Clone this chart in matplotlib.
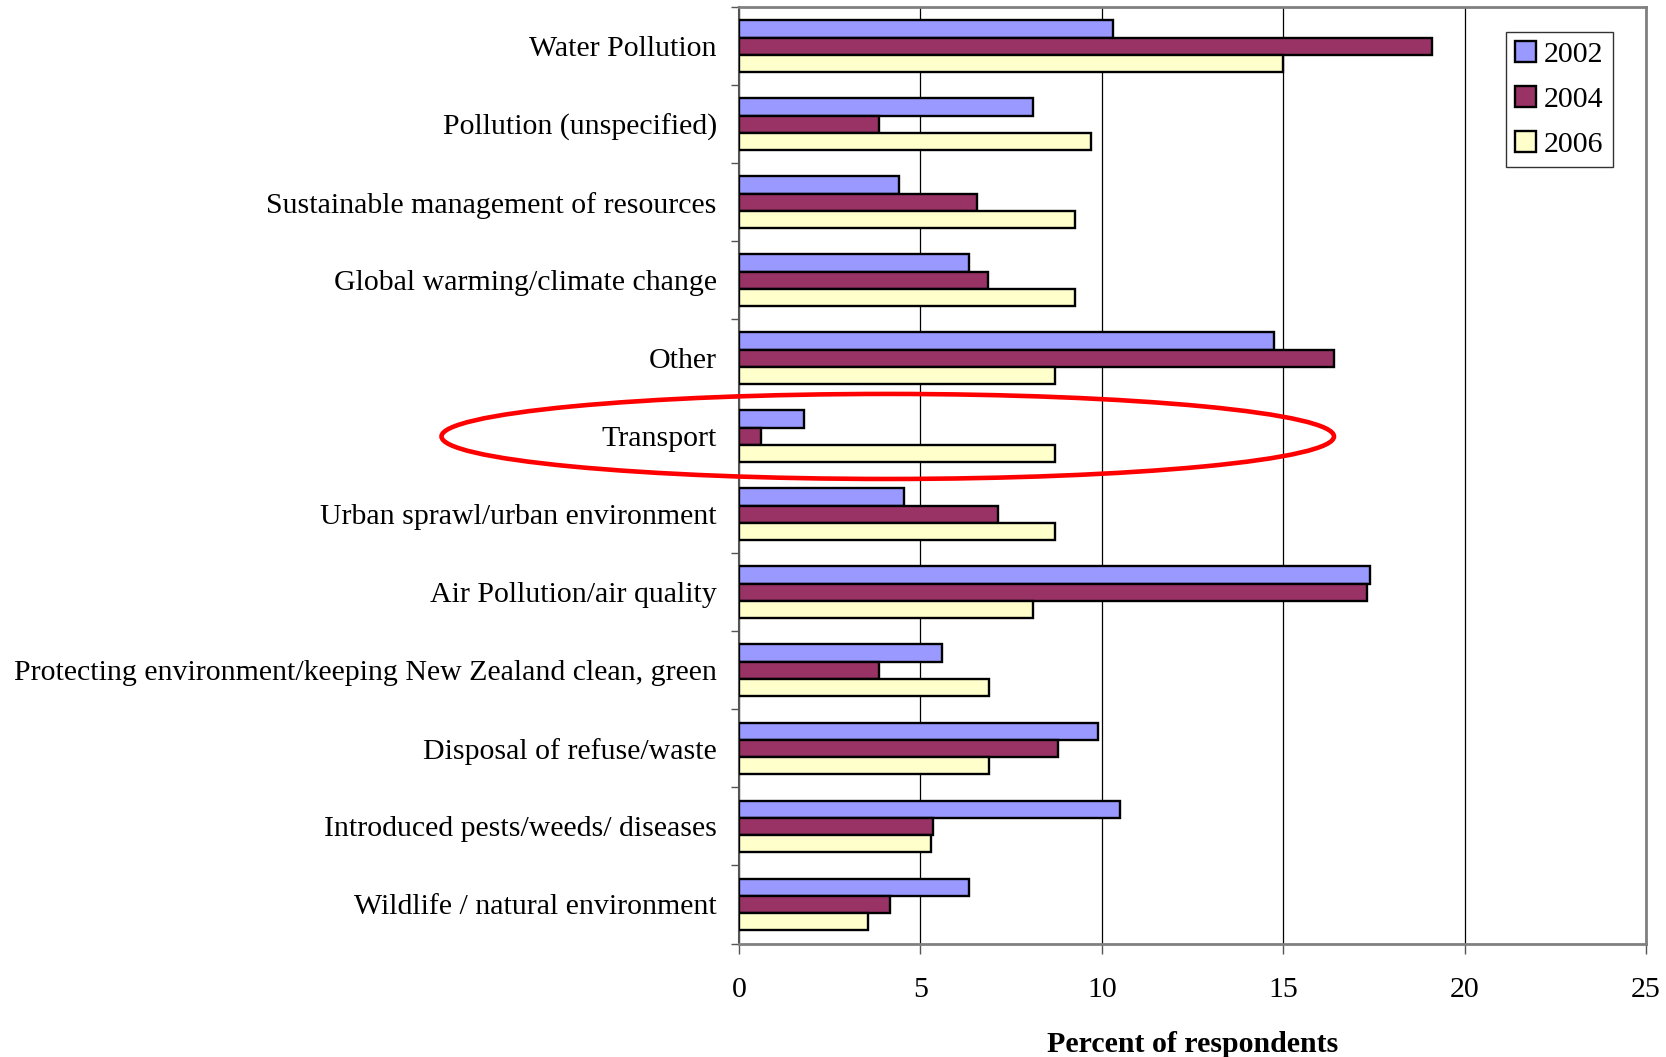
import matplotlib
matplotlib.use("Agg")
import matplotlib.pyplot as plt
from matplotlib.patches import Ellipse
import numpy as np

plt.rcParams['font.family'] = ['Liberation Serif', 'DejaVu Serif']

categories = [
    "Water Pollution",
    "Pollution (unspecified)",
    "Sustainable management of resources",
    "Global warming/climate change",
    "Other",
    "Transport",
    "Urban sprawl/urban environment",
    "Air Pollution/air quality",
    "Protecting environment/keeping New Zealand clean, green",
    "Disposal of refuse/waste",
    "Introduced pests/weeds/ diseases",
    "Wildlife / natural environment",
]
years = ["2002", "2004", "2006"]
v2002 = [10.3, 8.1, 4.4, 6.35, 14.75, 1.8, 4.55, 17.4, 5.6, 9.9, 10.5, 6.35]
v2004 = [19.1, 3.85, 6.55, 6.85, 16.4, 0.6, 7.15, 17.3, 3.85, 8.8, 5.35, 4.15]
v2006 = [15.0, 9.7, 9.25, 9.25, 8.7, 8.7, 8.7, 8.1, 6.9, 6.9, 5.3, 3.55]
series = [v2002, v2004, v2006]
colors = ["#9999FF", "#993366", "#FFFFCC"]
xticks = [0, 5, 10, 15, 20, 25]
xlabel = "Percent of respondents"
highlight = "Transport"

FS = 21.5
W, H = 1666, 1057
fig = plt.figure(figsize=(W / 100, H / 100), dpi=100)
ax = fig.add_axes([739 / W, 1 - 943.5 / H, (1646 - 739) / W, (943.5 - 7.4) / H])

n = len(categories)
y = np.arange(n)
h = 0.222
for k, (vals, col, lab) in enumerate(zip(series, colors, years)):
    ax.barh(y + (k - 1) * h, vals, height=h, color=col, edgecolor="black",
            linewidth=1.7, label=lab, zorder=3)

ax.set_xlim(0, 25)
ax.set_ylim(n - 0.5, -0.5)

# grid
ax.set_xticks(xticks)
ax.set_xticklabels([str(t) for t in xticks], fontsize=FS)
ax.xaxis.grid(True, color="#000000", linewidth=0.9, zorder=0)
ax.tick_params(axis="x", length=7, width=1, color="#555555", pad=17, direction="out")

# y ticks: boundaries with marks, centers with labels
ax.set_yticks(np.arange(-0.5, n, 1.0))
ax.set_yticklabels([])
ax.tick_params(axis="y", which="major", length=6, width=1, color="#555555", direction="out")
ax.set_yticks(y, minor=True)
ax.set_yticklabels(categories, minor=True, fontsize=FS)
ax.tick_params(axis="y", which="minor", length=0, pad=16)

for side in ["top", "right", "bottom"]:
    ax.spines[side].set_color("#808080")
    ax.spines[side].set_linewidth(2)
ax.spines["left"].set_color("#555555")
ax.spines["left"].set_linewidth(1.5)

ax.set_xlabel(xlabel, fontsize=FS, fontweight="bold", labelpad=20)

leg = fig.legend(loc="upper left", bbox_to_anchor=(1505.7 / W, 1 - 32.3 / H),
                 bbox_transform=fig.transFigure, fontsize=FS, frameon=True,
                 fancybox=False, shadow=False, borderaxespad=0,
                 handlelength=0.7, handleheight=0.7, handletextpad=0.28,
                 labelspacing=0.6, borderpad=0.3)
leg.get_frame().set_edgecolor("black")
leg.get_frame().set_linewidth(1.0)

# red ellipse highlight around the Transport row
ti = categories.index(highlight)
ell = Ellipse((4.1, ti), width=24.6, height=1.09, fill=False, edgecolor="#FF0000",
              linewidth=3.3, clip_on=False, zorder=5)
ax.add_patch(ell)

fig.savefig("out.png", dpi=100)
